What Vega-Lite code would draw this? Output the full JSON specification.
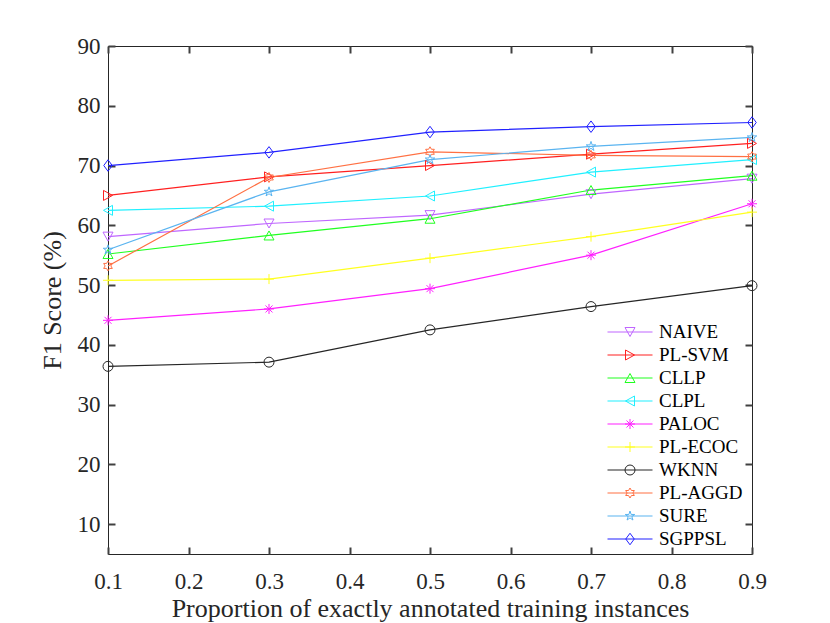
{
  "$schema": "https://vega.github.io/schema/vega-lite/v6.json",
  "description": "F1 score vs proportion of exactly annotated training instances",
  "width": 644,
  "height": 508,
  "autosize": {"type": "none"},
  "padding": {"left": 108, "top": 46, "right": 78, "bottom": 69},
  "background": "white",
  "config": {
    "font": "Liberation Serif",
    "view": {"stroke": "#262626", "strokeWidth": 1},
    "axis": {
      "grid": false,
      "domain": false,
      "ticks": true,
      "offset": -7,
      "labelColor": "#262626",
      "titleColor": "#262626",
      "labelFont": "Liberation Serif",
      "titleFont": "Liberation Serif",
      "labelFontSize": 23,
      "titleFontSize": 26,
      "titleFontWeight": "normal",
      "tickSize": 7
    }
  },
  "data": {
    "values": [
      {"method": "NAIVE", "p": 0.1, "f1": 58.1},
      {"method": "NAIVE", "p": 0.3, "f1": 60.3},
      {"method": "NAIVE", "p": 0.5, "f1": 61.7},
      {"method": "NAIVE", "p": 0.7, "f1": 65.2},
      {"method": "NAIVE", "p": 0.9, "f1": 67.8},
      {"method": "PL-SVM", "p": 0.1, "f1": 65.0},
      {"method": "PL-SVM", "p": 0.3, "f1": 68.1},
      {"method": "PL-SVM", "p": 0.5, "f1": 70.0},
      {"method": "PL-SVM", "p": 0.7, "f1": 71.9},
      {"method": "PL-SVM", "p": 0.9, "f1": 73.7},
      {"method": "CLLP", "p": 0.1, "f1": 55.2},
      {"method": "CLLP", "p": 0.3, "f1": 58.3},
      {"method": "CLLP", "p": 0.5, "f1": 61.1},
      {"method": "CLLP", "p": 0.7, "f1": 65.9},
      {"method": "CLLP", "p": 0.9, "f1": 68.3},
      {"method": "CLPL", "p": 0.1, "f1": 62.5},
      {"method": "CLPL", "p": 0.3, "f1": 63.2},
      {"method": "CLPL", "p": 0.5, "f1": 64.9},
      {"method": "CLPL", "p": 0.7, "f1": 68.9},
      {"method": "CLPL", "p": 0.9, "f1": 71.0},
      {"method": "PALOC", "p": 0.1, "f1": 44.1},
      {"method": "PALOC", "p": 0.3, "f1": 46.0},
      {"method": "PALOC", "p": 0.5, "f1": 49.4},
      {"method": "PALOC", "p": 0.7, "f1": 55.0},
      {"method": "PALOC", "p": 0.9, "f1": 63.6},
      {"method": "PL-ECOC", "p": 0.1, "f1": 50.8},
      {"method": "PL-ECOC", "p": 0.3, "f1": 51.0},
      {"method": "PL-ECOC", "p": 0.5, "f1": 54.5},
      {"method": "PL-ECOC", "p": 0.7, "f1": 58.1},
      {"method": "PL-ECOC", "p": 0.9, "f1": 62.2},
      {"method": "WKNN", "p": 0.1, "f1": 36.4},
      {"method": "WKNN", "p": 0.3, "f1": 37.1},
      {"method": "WKNN", "p": 0.5, "f1": 42.5},
      {"method": "WKNN", "p": 0.7, "f1": 46.4},
      {"method": "WKNN", "p": 0.9, "f1": 49.9},
      {"method": "PL-AGGD", "p": 0.1, "f1": 53.2},
      {"method": "PL-AGGD", "p": 0.3, "f1": 68.0},
      {"method": "PL-AGGD", "p": 0.5, "f1": 72.3},
      {"method": "PL-AGGD", "p": 0.7, "f1": 71.7},
      {"method": "PL-AGGD", "p": 0.9, "f1": 71.5},
      {"method": "SURE", "p": 0.1, "f1": 55.9},
      {"method": "SURE", "p": 0.3, "f1": 65.6},
      {"method": "SURE", "p": 0.5, "f1": 71.0},
      {"method": "SURE", "p": 0.7, "f1": 73.2},
      {"method": "SURE", "p": 0.9, "f1": 74.7},
      {"method": "SGPPSL", "p": 0.1, "f1": 70.0},
      {"method": "SGPPSL", "p": 0.3, "f1": 72.2},
      {"method": "SGPPSL", "p": 0.5, "f1": 75.6},
      {"method": "SGPPSL", "p": 0.7, "f1": 76.5},
      {"method": "SGPPSL", "p": 0.9, "f1": 77.2}
    ]
  },
  "resolve": {"axis": {"x": "independent", "y": "independent"}},
  "layer": [
    {
      "mark": {"type": "line", "strokeWidth": 1.2},
      "encoding": {
        "x": {
          "field": "p", "type": "quantitative",
          "scale": {"domain": [0.1, 0.9], "nice": false, "zero": false},
          "axis": {"orient": "bottom", "tickColor": "#404040", "tickWidth": 2, "values": [0.1, 0.2, 0.3, 0.4, 0.5, 0.6, 0.7, 0.8, 0.9], "format": ".1f", "labelPadding": 16, "labelFlush": false, "titlePadding": 2,
                   "title": "Proportion of exactly annotated training instances"}
        },
        "y": {
          "field": "f1", "type": "quantitative",
          "scale": {"domain": [5, 90], "nice": false, "zero": false},
          "axis": {"orient": "left", "tickColor": "#404040", "tickWidth": 2, "values": [10, 20, 30, 40, 50, 60, 70, 80, 90], "labelPadding": 8, "titlePadding": 12, "title": "F1 Score (%)"}
        },
        "color": {
          "field": "method", "type": "nominal",
          "sort": ["NAIVE", "PL-SVM", "CLLP", "CLPL", "PALOC", "PL-ECOC", "WKNN", "PL-AGGD", "SURE", "SGPPSL"],
          "scale": {
            "range": ["#bf66ff", "#ff2020", "#20ff20", "#20f0ff", "#ff20ff", "#ffff20", "#262626", "#ff7043", "#5ab4f0", "#2020ff"]
          },
          "legend": {
            "title": null, "orient": "none", "legendX": 512.5, "legendY": 276.5, "padding": 0,
            "labelFont": "Liberation Serif", "labelFontSize": 19, "labelColor": "#000000",
            "labelOffset": 19.5, "rowPadding": 3, "symbolType": "M-4.5,0L4.5,0", "symbolSize": 100, "symbolStrokeWidth": 1.2
          }
        }
      }
    },
    {
      "mark": {"type": "point", "filled": false, "size": 100, "strokeWidth": 1, "opacity": 1},
      "encoding": {
        "x": {"field": "p", "type": "quantitative", "axis": null},
        "y": {"field": "f1", "type": "quantitative", "axis": null},
        "stroke": {
          "field": "method", "type": "nominal",
          "scale": {
            "domain": ["NAIVE", "PL-SVM", "CLLP", "CLPL", "PALOC", "PL-ECOC", "WKNN", "PL-AGGD", "SURE", "SGPPSL"],
            "range": ["#bf66ff", "#ff2020", "#20ff20", "#20f0ff", "#ff20ff", "#ffff20", "#262626", "#ff7043", "#5ab4f0", "#2020ff"]
          },
          "legend": {
            "title": null, "orient": "none", "legendX": 512.5, "legendY": 276.5, "padding": 0,
            "labelFont": "Liberation Serif", "labelFontSize": 19, "labelOpacity": 0,
            "labelOffset": 19.5, "rowPadding": 3, "symbolSize": 100, "symbolStrokeWidth": 1, "symbolFillColor": "white"
          }
        },
        "shape": {
          "field": "method", "type": "nominal",
          "scale": {
            "domain": ["NAIVE", "PL-SVM", "CLLP", "CLPL", "PALOC", "PL-ECOC", "WKNN", "PL-AGGD", "SURE", "SGPPSL"],
            "range": [
              "M-1,-0.9L1,-0.9L0,0.9Z",
              "M-0.9,-1L0.9,0L-0.9,1Z",
              "M-1,0.9L1,0.9L0,-0.9Z",
              "M0.9,-1L-0.9,0L0.9,1Z",
              "M-1,0L1,0M0,-1L0,1M-0.7,-0.7L0.7,0.7M-0.7,0.7L0.7,-0.7",
              "M-1,0L1,0M0,-1L0,1",
              "M1,0A1,1,0,1,1,-1,0A1,1,0,1,1,1,0Z",
              "M0,-1L0.289,-0.5L0.866,-0.5L0.577,0L0.866,0.5L0.289,0.5L0,1L-0.289,0.5L-0.866,0.5L-0.577,0L-0.866,-0.5L-0.289,-0.5Z",
              "M0,-1L0.225,-0.309L0.951,-0.309L0.363,0.118L0.588,0.809L0,0.382L-0.588,0.809L-0.363,0.118L-0.951,-0.309L-0.225,-0.309Z",
              "M0,-1.15L0.85,0L0,1.15L-0.85,0Z"
            ]
          },
          "legend": {
            "title": null, "orient": "none", "legendX": 512.5, "legendY": 276.5, "padding": 0,
            "labelFont": "Liberation Serif", "labelFontSize": 19, "labelOpacity": 0,
            "labelOffset": 19.5, "rowPadding": 3, "symbolSize": 100, "symbolStrokeWidth": 1, "symbolFillColor": "white"
          }
        }
      }
    },
    {
      "mark": {"type": "point", "opacity": 0},
      "encoding": {
        "x": {"field": "p", "type": "quantitative",
              "axis": {"orient": "top", "tickColor": "#404040", "tickWidth": 2, "values": [0.1, 0.2, 0.3, 0.4, 0.5, 0.6, 0.7, 0.8, 0.9], "labels": false, "title": null}},
        "y": {"field": "f1", "type": "quantitative",
              "axis": {"orient": "right", "tickColor": "#404040", "tickWidth": 2, "values": [10, 20, 30, 40, 50, 60, 70, 80, 90], "labels": false, "title": null}}
      }
    }
  ]
}
